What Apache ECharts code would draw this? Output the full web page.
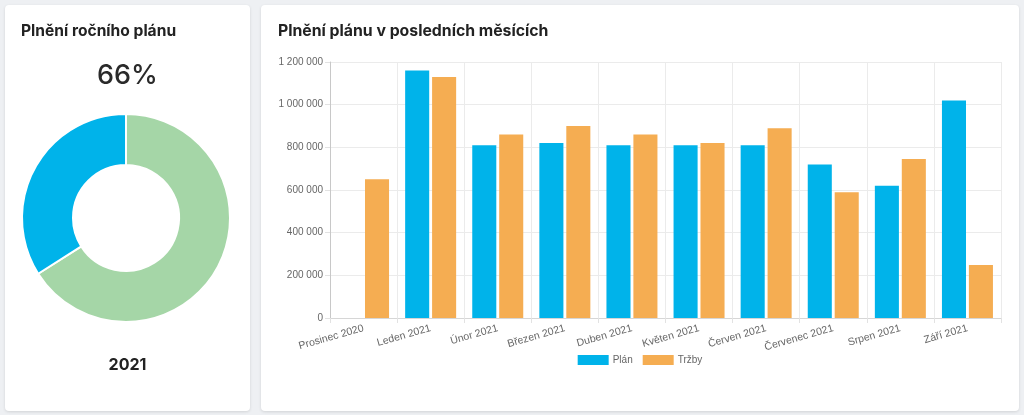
<!DOCTYPE html>
<html>
<head>
<meta charset="utf-8">
<script src="https://cdn.jsdelivr.net/npm/echarts@6/dist/echarts.min.js"></script>
<style>
  html, body { margin: 0; padding: 0; background: #eef0f3; width: 1024px; height: 415px; overflow: hidden; }
  .card { position: absolute; background: #fff; border-radius: 4px; box-shadow: 0 1px 3px rgba(0,0,0,0.12); }
  #left { left: 5px; top: 5px; width: 245px; height: 406px; }
  #right { left: 261px; top: 5px; width: 758px; height: 406px; }
</style>
</head>
<body>
<div class="card" id="left"></div>
<div class="card" id="right"></div>
<script>
const yearTitle = 'Plnění ročního plánu';
const yearLabel = '2021';
const pieNames = ['Splněno', 'Zbývá'];
const pieValues = [66, 34];
const percentText = '66%';

const barTitle = 'Plnění plánu v posledních měsících';
const months = ['Prosinec 2020', 'Leden 2021', 'Únor 2021', 'Březen 2021', 'Duben 2021', 'Květen 2021', 'Červen 2021', 'Červenec 2021', 'Srpen 2021', 'Září 2021'];
const planValues = [null, 1160000, 810000, 820000, 810000, 810000, 810000, 720000, 620000, 1020000];
const salesValues = [650000, 1130000, 860000, 900000, 860000, 820000, 890000, 590000, 745000, 248000];
const seriesNames = ['Plán', 'Tržby'];

const BLUE = '#00b3ea';
const ORANGE = '#f5ad52';
const GREEN = '#a5d6a7';
const TXT = '#222';
const titleFont = 'Inter, "Noto Sans", "Liberation Sans", Arial, sans-serif';
const axisFont = '"Liberation Sans", Arial, Helvetica, sans-serif';

function fmt(v) {
  return String(v).replace(/\B(?=(\d{3})+(?!\d))/g, ' ');
}

const left = echarts.init(document.getElementById('left'), null, { renderer: 'canvas' });
left.setOption({
  animation: false,
  graphic: [
    { type: 'text', left: 16, top: 18, style: { text: yearTitle, font: 'bold 15.6px ' + titleFont, fill: TXT } },
    { type: 'text', left: 'center', top: 57, style: { text: percentText, font: '500 27px ' + titleFont, fill: '#2a2a2a' } },
    { type: 'text', left: 'center', top: 352, style: { text: yearLabel, font: 'bold 16px ' + titleFont, fill: TXT } }
  ],
  series: [{
    type: 'pie',
    center: [121, 213],
    radius: [53, 104],
    startAngle: 90,
    clockwise: true,
    label: { show: false },
    labelLine: { show: false },
    itemStyle: { borderColor: '#fff', borderWidth: 2 },
    emphasis: { disabled: true },
    data: pieNames.map((n, i) => ({ name: n, value: pieValues[i], itemStyle: { color: [GREEN, BLUE][i] } }))
  }]
});

const right = echarts.init(document.getElementById('right'), null, { renderer: 'canvas' });
right.setOption({
  animation: false,
  graphic: [
    { type: 'text', left: 17, top: 18, style: { text: barTitle, font: 'bold 15.8px ' + titleFont, fill: TXT } }
  ],
  legend: {
    data: seriesNames,
    left: 'center',
    top: 345,
    itemWidth: 31,
    itemHeight: 10,
    itemGap: 10,
    icon: 'rect',
    textStyle: { color: '#666', fontSize: 10, fontFamily: axisFont, padding: [0, 0, 0, -1] }
  },
  grid: { left: 69, right: 18, top: 57, bottom: 93, show: false },
  xAxis: {
    type: 'category',
    data: months,
    boundaryGap: true,
    axisLine: { show: true, lineStyle: { color: '#d6d6d6' } },
    axisTick: { show: true, length: 5, lineStyle: { color: '#e2e2e2' } },
    splitLine: { show: true, lineStyle: { color: '#ebebeb' } },
    axisLabel: { rotate: 16, interval: 0, color: '#666', fontSize: 10.5, fontFamily: axisFont, margin: 10 }
  },
  yAxis: {
    type: 'value',
    min: 0,
    max: 1200000,
    interval: 200000,
    axisLine: { show: true, lineStyle: { color: '#c8c8c8' } },
    axisTick: { show: true, length: 5, lineStyle: { color: '#e2e2e2' } },
    splitLine: { show: true, lineStyle: { color: '#ebebeb' } },
    axisLabel: { color: '#666', fontSize: 10, fontFamily: axisFont, margin: 7, formatter: fmt }
  },
  series: [
    { name: seriesNames[0], type: 'bar', data: planValues, itemStyle: { color: BLUE }, barGap: '12%', barCategoryGap: '24%' },
    { name: seriesNames[1], type: 'bar', data: salesValues, itemStyle: { color: ORANGE }, barGap: '12%', barCategoryGap: '24%' }
  ]
});
</script>
</body>
</html>
